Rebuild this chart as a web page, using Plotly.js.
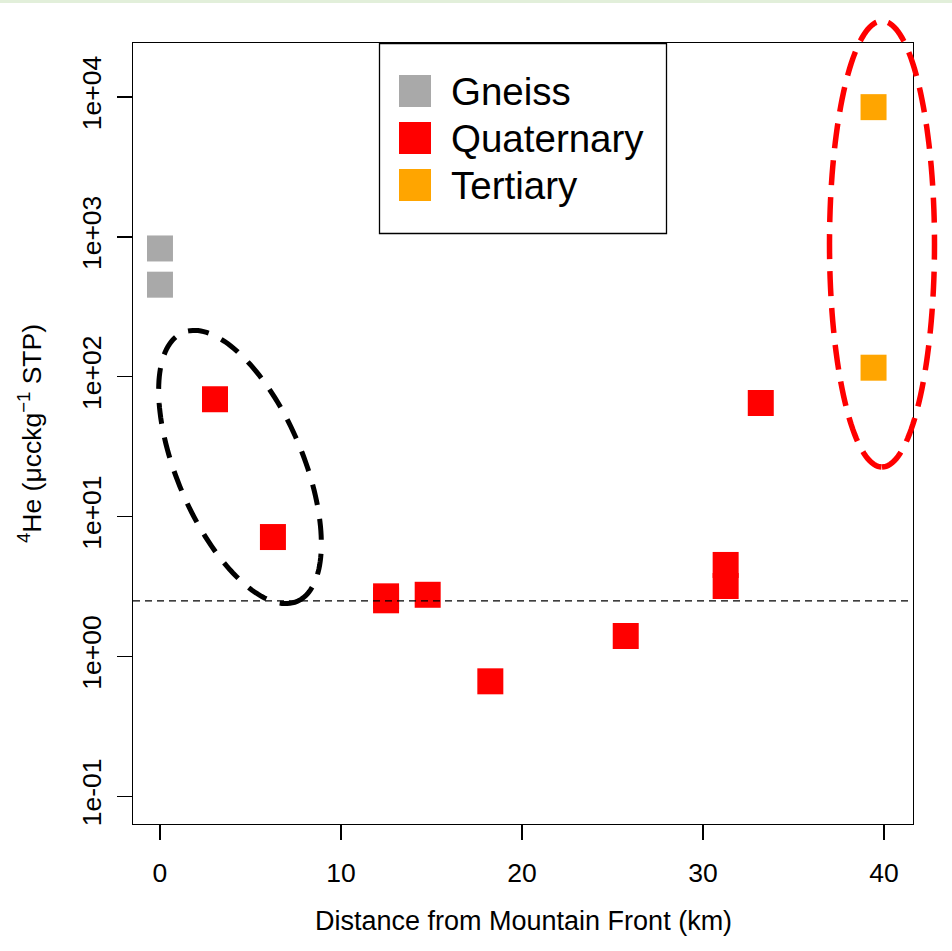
<!DOCTYPE html>
<html><head><meta charset="utf-8">
<script src="https://cdn.plot.ly/plotly-3.0.1.min.js"></script>
<style>html,body{margin:0;padding:0;background:#fff}#chart{width:952px;height:951px}</style>
</head><body><div id="chart"></div>
<script>
// ---- data ----
const gneissX = [0, 0];
const gneissY = [826, 455];
const quatX = [3.04, 6.24, 12.49, 12.49, 14.79, 18.25, 25.73, 31.25, 31.25, 33.19];
const quatY = [69, 7.14, 2.69, 2.52, 2.76, 0.664, 1.40, 4.51, 3.19, 64.9];
const tertX = [39.42, 39.42];
const tertY = [8460, 116];
const seriesNames = ['Gneiss', 'Quaternary', 'Tertiary'];
const seriesColors = ['#A9A9A9', '#FF0000', '#FFA500'];
const referenceLevel = 2.5;
const xTickVals = [0, 10, 20, 30, 40];
const yTickVals = [0.1, 1, 10, 100, 1000, 10000];
const yTickText = ['1e-01', '1e+00', '1e+01', '1e+02', '1e+03', '1e+04'];
const xTitle = 'Distance from Mountain Front (km)';
const yTitle = '<sup>4</sup>He (\u03bccckg<sup>\u22121</sup> STP)';

// ---- geometry / style ----
const W = 952, H = 951;
const M = {l: 133, r: 39, t: 43, b: 127};
const PW = W - M.l - M.r, PH = H - M.t - M.b;
const px = X => (X - M.l) / PW;
const py = Y => (H - M.b - Y) / PH;
const FONT = 'Liberation Sans, Arial, sans-serif';

function ellipsePath(cx, cy, a, b, thetaDeg) {
  const th = thetaDeg * Math.PI / 180;
  const ux = Math.sin(th), uy = Math.cos(th);
  const vx = Math.cos(th), vy = -Math.sin(th);
  let d = '';
  const n = 160;
  for (let i = 0; i <= n; i++) {
    const t = 2 * Math.PI * i / n;
    const X = cx + a * Math.cos(t) * ux + b * Math.sin(t) * vx;
    const Y = cy + a * Math.cos(t) * uy + b * Math.sin(t) * vy;
    d += (i === 0 ? 'M' : 'L') + px(X).toFixed(5) + ',' + py(Y).toFixed(5);
  }
  return d + 'Z';
}

const xs = [gneissX, quatX, tertX];
const ys = [gneissY, quatY, tertY];
const traces = seriesNames.map((name, i) => ({
  type: 'scatter', mode: 'markers', name: name,
  x: xs[i], y: ys[i], showlegend: false, cliponaxis: false,
  marker: {symbol: 'square', size: 26, color: seriesColors[i], line: {width: 0}}
}));

const shapes = [
  // faint green band at the very top of the picture
  {type: 'rect', xref: 'paper', yref: 'paper', x0: px(0), x1: px(W), y0: py(0), y1: py(3),
   line: {width: 0}, fillcolor: '#E2EFDA', layer: 'below'},
  // horizontal reference line
  {type: 'line', xref: 'paper', yref: 'y', x0: 0, x1: 1,
   y0: referenceLevel, y1: referenceLevel,
   line: {color: '#000', width: 1.3, dash: '7px,5px'}},
  // black dashed ellipse
  {type: 'path', xref: 'paper', yref: 'paper', path: ellipsePath(240, 467, 146, 63, 23),
   line: {color: '#000', width: 5, dash: '21px,14px'}},
  // red dashed ellipse
  {type: 'path', xref: 'paper', yref: 'paper', path: ellipsePath(882, 244, 223, 52.5, 0),
   line: {color: '#FF0000', width: 5.5, dash: '25px,12px'}},
  // legend box
  {type: 'rect', xref: 'paper', yref: 'paper', x0: px(379.5), x1: px(666.5), y0: py(233.5), y1: py(43.5),
   line: {color: '#000', width: 1.3}, fillcolor: 'rgba(0,0,0,0)'}
];

const annotations = [
  {xref: 'paper', yref: 'paper', x: 0.5, y: py(921), text: xTitle, showarrow: false,
   xanchor: 'center', yanchor: 'middle', font: {family: FONT, size: 27, color: '#000'}},
  {xref: 'paper', yref: 'paper', x: px(29.5), y: 0.5, text: yTitle, showarrow: false, textangle: -90,
   xanchor: 'center', yanchor: 'middle', font: {family: FONT, size: 26.5, color: '#000'}}
];

seriesNames.forEach((name, i) => {
  const cy = 91 + i * 47;
  shapes.push({type: 'rect', xref: 'paper', yref: 'paper',
    x0: px(399), x1: px(431), y0: py(cy + 16), y1: py(cy - 16),
    line: {width: 0}, fillcolor: seriesColors[i]});
  annotations.push({xref: 'paper', yref: 'paper', x: px(449), y: py(cy + 1), text: name, showarrow: false,
    xanchor: 'left', yanchor: 'middle', font: {family: FONT, size: 38.5, color: '#000'}});
});

const axisCommon = {
  showgrid: false, zeroline: false, showline: true, mirror: true,
  linecolor: '#000', linewidth: 1.3, ticks: 'outside', ticklen: 15, tickwidth: 1.3, tickcolor: '#000',
  tickfont: {family: FONT, size: 26.5, color: '#000'}
};

const layout = {
  width: W, height: H, margin: {l: M.l, r: M.r, t: M.t, b: M.b, pad: 0},
  paper_bgcolor: '#fff', plot_bgcolor: '#fff', showlegend: false,
  xaxis: Object.assign({}, axisCommon, {range: [-1.49, 41.6], tickmode: 'array', tickvals: xTickVals,
    ticklabelstandoff: 10}),
  yaxis: Object.assign({}, axisCommon, {type: 'log', range: [-1.198, 4.386], tickmode: 'array',
    tickvals: yTickVals, ticktext: yTickText, tickangle: -90, ticklabelstandoff: 5}),
  shapes: shapes, annotations: annotations
};

Plotly.newPlot('chart', traces, layout, {staticPlot: true, displayModeBar: false});
</script>
</body></html>
